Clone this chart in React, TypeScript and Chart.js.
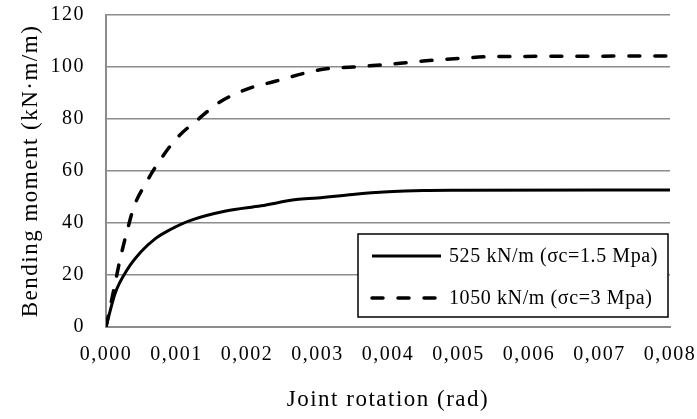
import React, { useEffect, useRef } from "react";
import { Chart, registerables } from "chart.js";

Chart.register(...registerables);

const rotation525: number[] = [0, 0.00013, 0.0003, 0.0005, 0.0007, 0.0009, 0.0012, 0.0017, 0.0022, 0.0027, 0.003, 0.0035, 0.004, 0.0045, 0.005, 0.008];
const moment525: number[] = [0, 13, 22, 29, 34, 37.3, 41, 44.6, 46.6, 49, 49.6, 51, 52, 52.5, 52.6, 52.7];

const rotation1050: number[] = [0, 0.0001, 0.0002, 0.0003, 0.0004, 0.00055, 0.00075, 0.001, 0.00133, 0.0016, 0.002, 0.0024, 0.0028, 0.0031, 0.0035, 0.004, 0.0045, 0.005, 0.0055, 0.008];
const moment1050: number[] = [0, 13, 26, 37, 46.5, 54.6, 63.5, 72.5, 80.4, 86.3, 91.5, 94.5, 97.5, 99.2, 100, 101, 102.3, 103.3, 104, 104.2];

const seriesLabels: string[] = ["525 kN/m (σc=1.5 Mpa)", "1050 kN/m (σc=3 Mpa)"];
const xTicks: number[] = [0, 0.001, 0.002, 0.003, 0.004, 0.005, 0.006, 0.007, 0.008];
const yTicks: number[] = [0, 20, 40, 60, 80, 100, 120];
const xTitle = "Joint rotation (rad)";
const yTitle = "Bending moment (kN·m/m)";

const FONT = "'Liberation Serif', 'Times New Roman', serif";

const spacingPlugin = {
  id: "spacing",
  beforeDraw(chart: any) {
    (chart.ctx as any).letterSpacing = "1.5px";
  },
};

const legendPlugin = {
  id: "innerLegend",
  afterDraw(chart: any) {
    const { ctx, chartArea } = chart;
    const w = 310;
    const h = 83;
    const x = chartArea.right - w - 2;
    const y = chartArea.bottom - h - 10;
    ctx.save();
    (ctx as any).letterSpacing = "0.6px";
    ctx.fillStyle = "#ffffff";
    ctx.fillRect(x, y, w, h);
    ctx.strokeStyle = "#000000";
    ctx.lineWidth = 1.5;
    ctx.strokeRect(x, y, w, h);
    chart.data.datasets.forEach((ds: any, i: number) => {
      const ly = y + 22 + i * 42;
      ctx.beginPath();
      ctx.setLineDash(ds.borderDash || []);
      ctx.lineCap = ds.borderCapStyle || "butt";
      ctx.lineWidth = ds.borderWidth;
      ctx.strokeStyle = ds.borderColor;
      ctx.moveTo(x + 14, ly);
      ctx.lineTo(x + 83, ly);
      ctx.stroke();
      ctx.setLineDash([]);
      ctx.fillStyle = "#000000";
      ctx.font = `20px ${FONT}`;
      ctx.textBaseline = "middle";
      ctx.textAlign = "left";
      ctx.fillText(ds.label, x + 91, ly + 1);
    });
    ctx.restore();
  },
};

const zeroPad = (scale: any) => {
  scale.paddingTop = 0;
  scale.paddingBottom = 0;
  scale.paddingLeft = 0;
  scale.paddingRight = 0;
};

export default function App() {
  const ref = useRef<HTMLCanvasElement | null>(null);
  useEffect(() => {
    if (!ref.current) return;
    const chart = new Chart(ref.current, {
      type: "line",
      data: {
        datasets: [
          {
            label: seriesLabels[0],
            data: rotation525.map((r, i) => ({ x: r, y: moment525[i] })),
            borderColor: "#000000",
            borderWidth: 3,
            pointRadius: 0,
            cubicInterpolationMode: "monotone",
            fill: false,
          },
          {
            label: seriesLabels[1],
            data: rotation1050.map((r, i) => ({ x: r, y: moment1050[i] })),
            borderColor: "#000000",
            borderWidth: 3.5,
            borderDash: [11, 15],
            borderCapStyle: "round",
            pointRadius: 0,
            cubicInterpolationMode: "monotone",
            fill: false,
          },
        ],
      },
      options: {
        responsive: false,
        animation: false,
        layout: { padding: { left: 0, right: 27, top: 15, bottom: 0 } },
        plugins: { legend: { display: false }, tooltip: { enabled: false } },
        scales: {
          x: {
            type: "linear",
            min: xTicks[0],
            max: xTicks[xTicks.length - 1],
            afterBuildTicks: (scale: any) => {
              scale.ticks = xTicks.map((v) => ({ value: v }));
            },
            afterFit: (scale: any) => {
              scale.height = 92;
              zeroPad(scale);
            },
            grid: { display: false, drawTicks: false },
            border: { display: true, color: "#8c8c8c", width: 2 },
            ticks: {
              color: "#000000",
              font: { family: FONT, size: 20 },
              padding: 16,
              maxRotation: 0,
              autoSkip: false,
              callback: (v: any) => Number(v).toFixed(3).replace(".", ","),
            },
            title: {
              display: true,
              text: xTitle,
              color: "#000000",
              font: { family: FONT, size: 23 },
              padding: { top: 0, bottom: 5 },
            },
          },
          y: {
            min: yTicks[0],
            max: yTicks[yTicks.length - 1],
            afterBuildTicks: (scale: any) => {
              scale.ticks = yTicks.map((v) => ({ value: v }));
            },
            afterFit: (scale: any) => {
              scale.width = 106;
              zeroPad(scale);
            },
            grid: { color: "#8c8c8c", lineWidth: 1.5, drawTicks: false },
            border: { display: true, color: "#8c8c8c", width: 2 },
            ticks: {
              color: "#000000",
              font: { family: FONT, size: 20 },
              padding: 21,
            },
            title: {
              display: true,
              text: yTitle,
              color: "#000000",
              font: { family: FONT, size: 23 },
              padding: { top: 17, bottom: 0 },
            },
          },
        },
      },
      plugins: [spacingPlugin, legendPlugin],
    } as any);
    return () => chart.destroy();
  }, []);
  return (
    <div style={{ position: "absolute", left: 0, top: 0, width: 697, height: 419, background: "#fff" }}>
      <canvas ref={ref} width={697} height={419} />
    </div>
  );
}
